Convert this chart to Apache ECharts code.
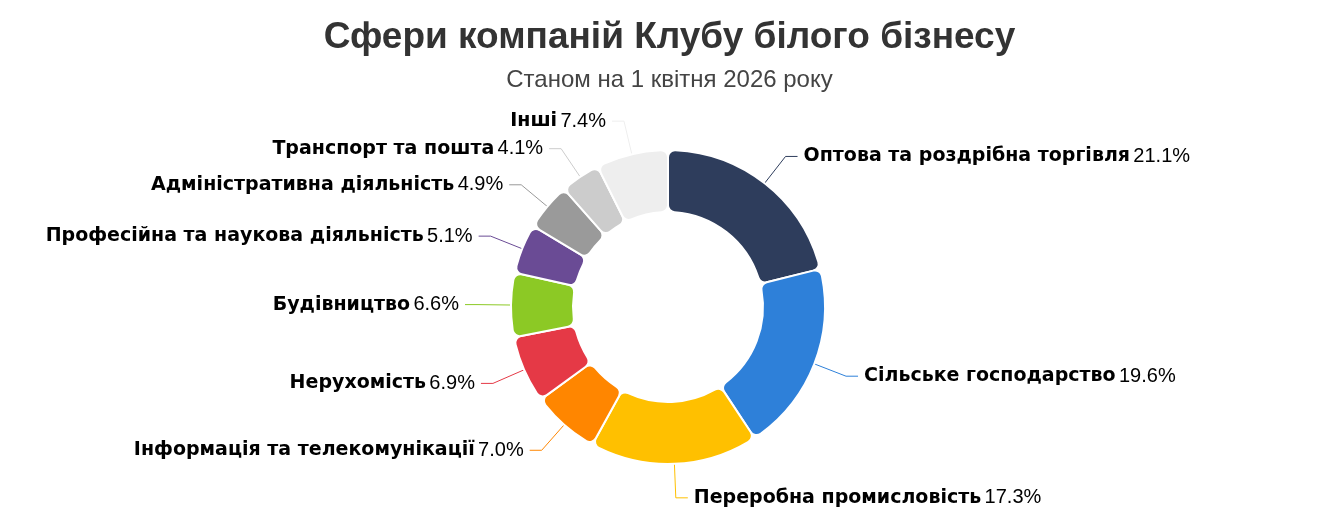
<!DOCTYPE html>
<html>
<head>
<meta charset="utf-8">
<script src="https://cdn.jsdelivr.net/npm/echarts@6/dist/echarts.min.js"></script>
<style>
  html, body { margin: 0; padding: 0; background: #fff; }
  #main { width: 1339px; height: 526px; }
</style>
</head>
<body>
<div id="main"></div>
<script>
// сфери компаній
var categories = [
    'Оптова та роздрібна торгівля',
    'Сільське господарство',
    'Переробна промисловість',
    'Інформація та телекомунікації',
    'Нерухомість',
    'Будівництво',
    'Професійна та наукова діяльність',
    'Адміністративна діяльність',
    'Транспорт та пошта',
    'Інші'
];
var shares = [21.1, 19.6, 17.3, 7.0, 6.9, 6.6, 5.1, 4.9, 4.1, 7.4];
var colors = ['#2E3D5C', '#2E80D9', '#FFC000', '#FF8600', '#E53946', '#8CC925', '#6A4B95', '#9A9A9A', '#CCCCCC', '#EEEEEE'];

var pieData = categories.map(function (name, i) {
    return { name: name, value: shares[i] };
});

var option = {
    color: colors,
    title: {
        text: 'Сфери компаній Клубу білого бізнесу',
        subtext: 'Станом на 1 квітня 2026 року',
        left: 'center',
        top: 14,
        itemGap: 12,
        textStyle: {
            fontFamily: 'Liberation Sans',
            fontSize: 37,
            fontWeight: 'bold',
            color: '#333333'
        },
        subtextStyle: {
            fontFamily: 'Liberation Sans',
            fontSize: 24,
            color: '#444444'
        }
    },
    series: [
        {
            type: 'pie',
            center: [668, 307],
            radius: [95, 157],
            startAngle: 90,
            clockwise: true,
            avoidLabelOverlap: true,
            itemStyle: {
                borderColor: '#ffffff',
                borderWidth: 2,
                borderRadius: 7
            },
            label: {
                distanceToLabelLine: 6,
                formatter: function (p) {
                    return '{n|' + p.name + '} {v|' + p.value.toFixed(1) + '%}';
                },
                rich: {
                    n: {
                        fontFamily: 'DejaVu Sans',
                        fontSize: 19,
                        fontWeight: 'bold',
                        color: '#000000'
                    },
                    v: {
                        fontFamily: 'Liberation Sans',
                        fontSize: 20,
                        color: '#000000'
                    }
                }
            },
            labelLine: {
                length: 34,
                length2: 12,
                lineStyle: { width: 1 }
            },
            data: pieData
        }
    ]
};

var chart = echarts.init(document.getElementById('main'));
chart.setOption(option);
</script>
</body>
</html>
